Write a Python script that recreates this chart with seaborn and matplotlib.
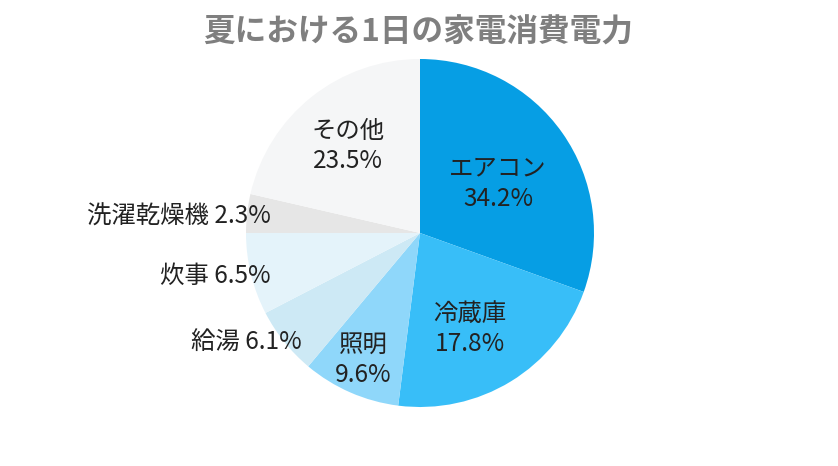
import numpy as np
import matplotlib
matplotlib.use("Agg")
import matplotlib.pyplot as plt
import seaborn as sns

sns.set_theme(style="white")
plt.rcParams['font.family'] = ['Noto Sans CJK JP', 'DejaVu Sans']

# data
labels = ['エアコン', '冷蔵庫', '照明', '給湯', '炊事', '洗濯乾燥機', 'その他']
label_pct = [34.2, 17.8, 9.6, 6.1, 6.5, 2.3, 23.5]      # printed values
wedge_share = [30.5, 21.5, 9.1, 6.3, 7.6, 3.6, 21.4]    # wedge sizes as drawn
colors = ['#069ee4', '#38bef8', '#8fd7fa', '#cde9f5', '#e4f3fa', '#e6e6e6', '#f5f6f7']
title = '夏における1日の家電消費電力'

# label layout
label_r = [0.54, 0.607, 0.785, 0.911, 0.887, 0.863, 0.662]
label_nudge = [-1.35, -3.15, -1.1, 3.2, 1.3, -0.8, 0.2]
two_line = [True, True, True, False, False, False, True]

fig = plt.figure(figsize=(8.38, 4.66), dpi=100)
ax = fig.add_axes([0, 0, 1, 1])

R = 174
cx, cy = 420, 233
ax.pie(wedge_share, colors=colors, startangle=90, counterclock=False,
       radius=1, wedgeprops=dict(linewidth=0))
ax.set_aspect('auto')
ax.set_xlim(-cx / R, (838 - cx) / R)
ax.set_ylim(-(466 - cy) / R, cy / R)
ax.axis('off')

total = sum(wedge_share)
start = 90.0
dy = -3 / R
for lab, pct, v, r, nd, tl in zip(labels, label_pct, wedge_share, label_r,
                                  label_nudge, two_line):
    span = v / total * 360
    mid = start - span / 2 + nd
    start -= span
    x = r * np.cos(np.radians(mid))
    y = r * np.sin(np.radians(mid)) + dy
    if tl:
        ax.text(x, y, f'{lab}\n{pct}%', ha='center', va='center', fontsize=17.6,
                color='#222222', linespacing=1.22)
    else:
        ax.text(x, y, f'{lab} {pct}%', ha='right', va='center', fontsize=17.6,
                color='#222222')

fig.text(418 / 838, 1 - 33 / 466, title, ha='center', va='center',
         fontsize=22.8, fontweight='bold', color='#7f7f7f')

fig.savefig('out.png', dpi=100)
